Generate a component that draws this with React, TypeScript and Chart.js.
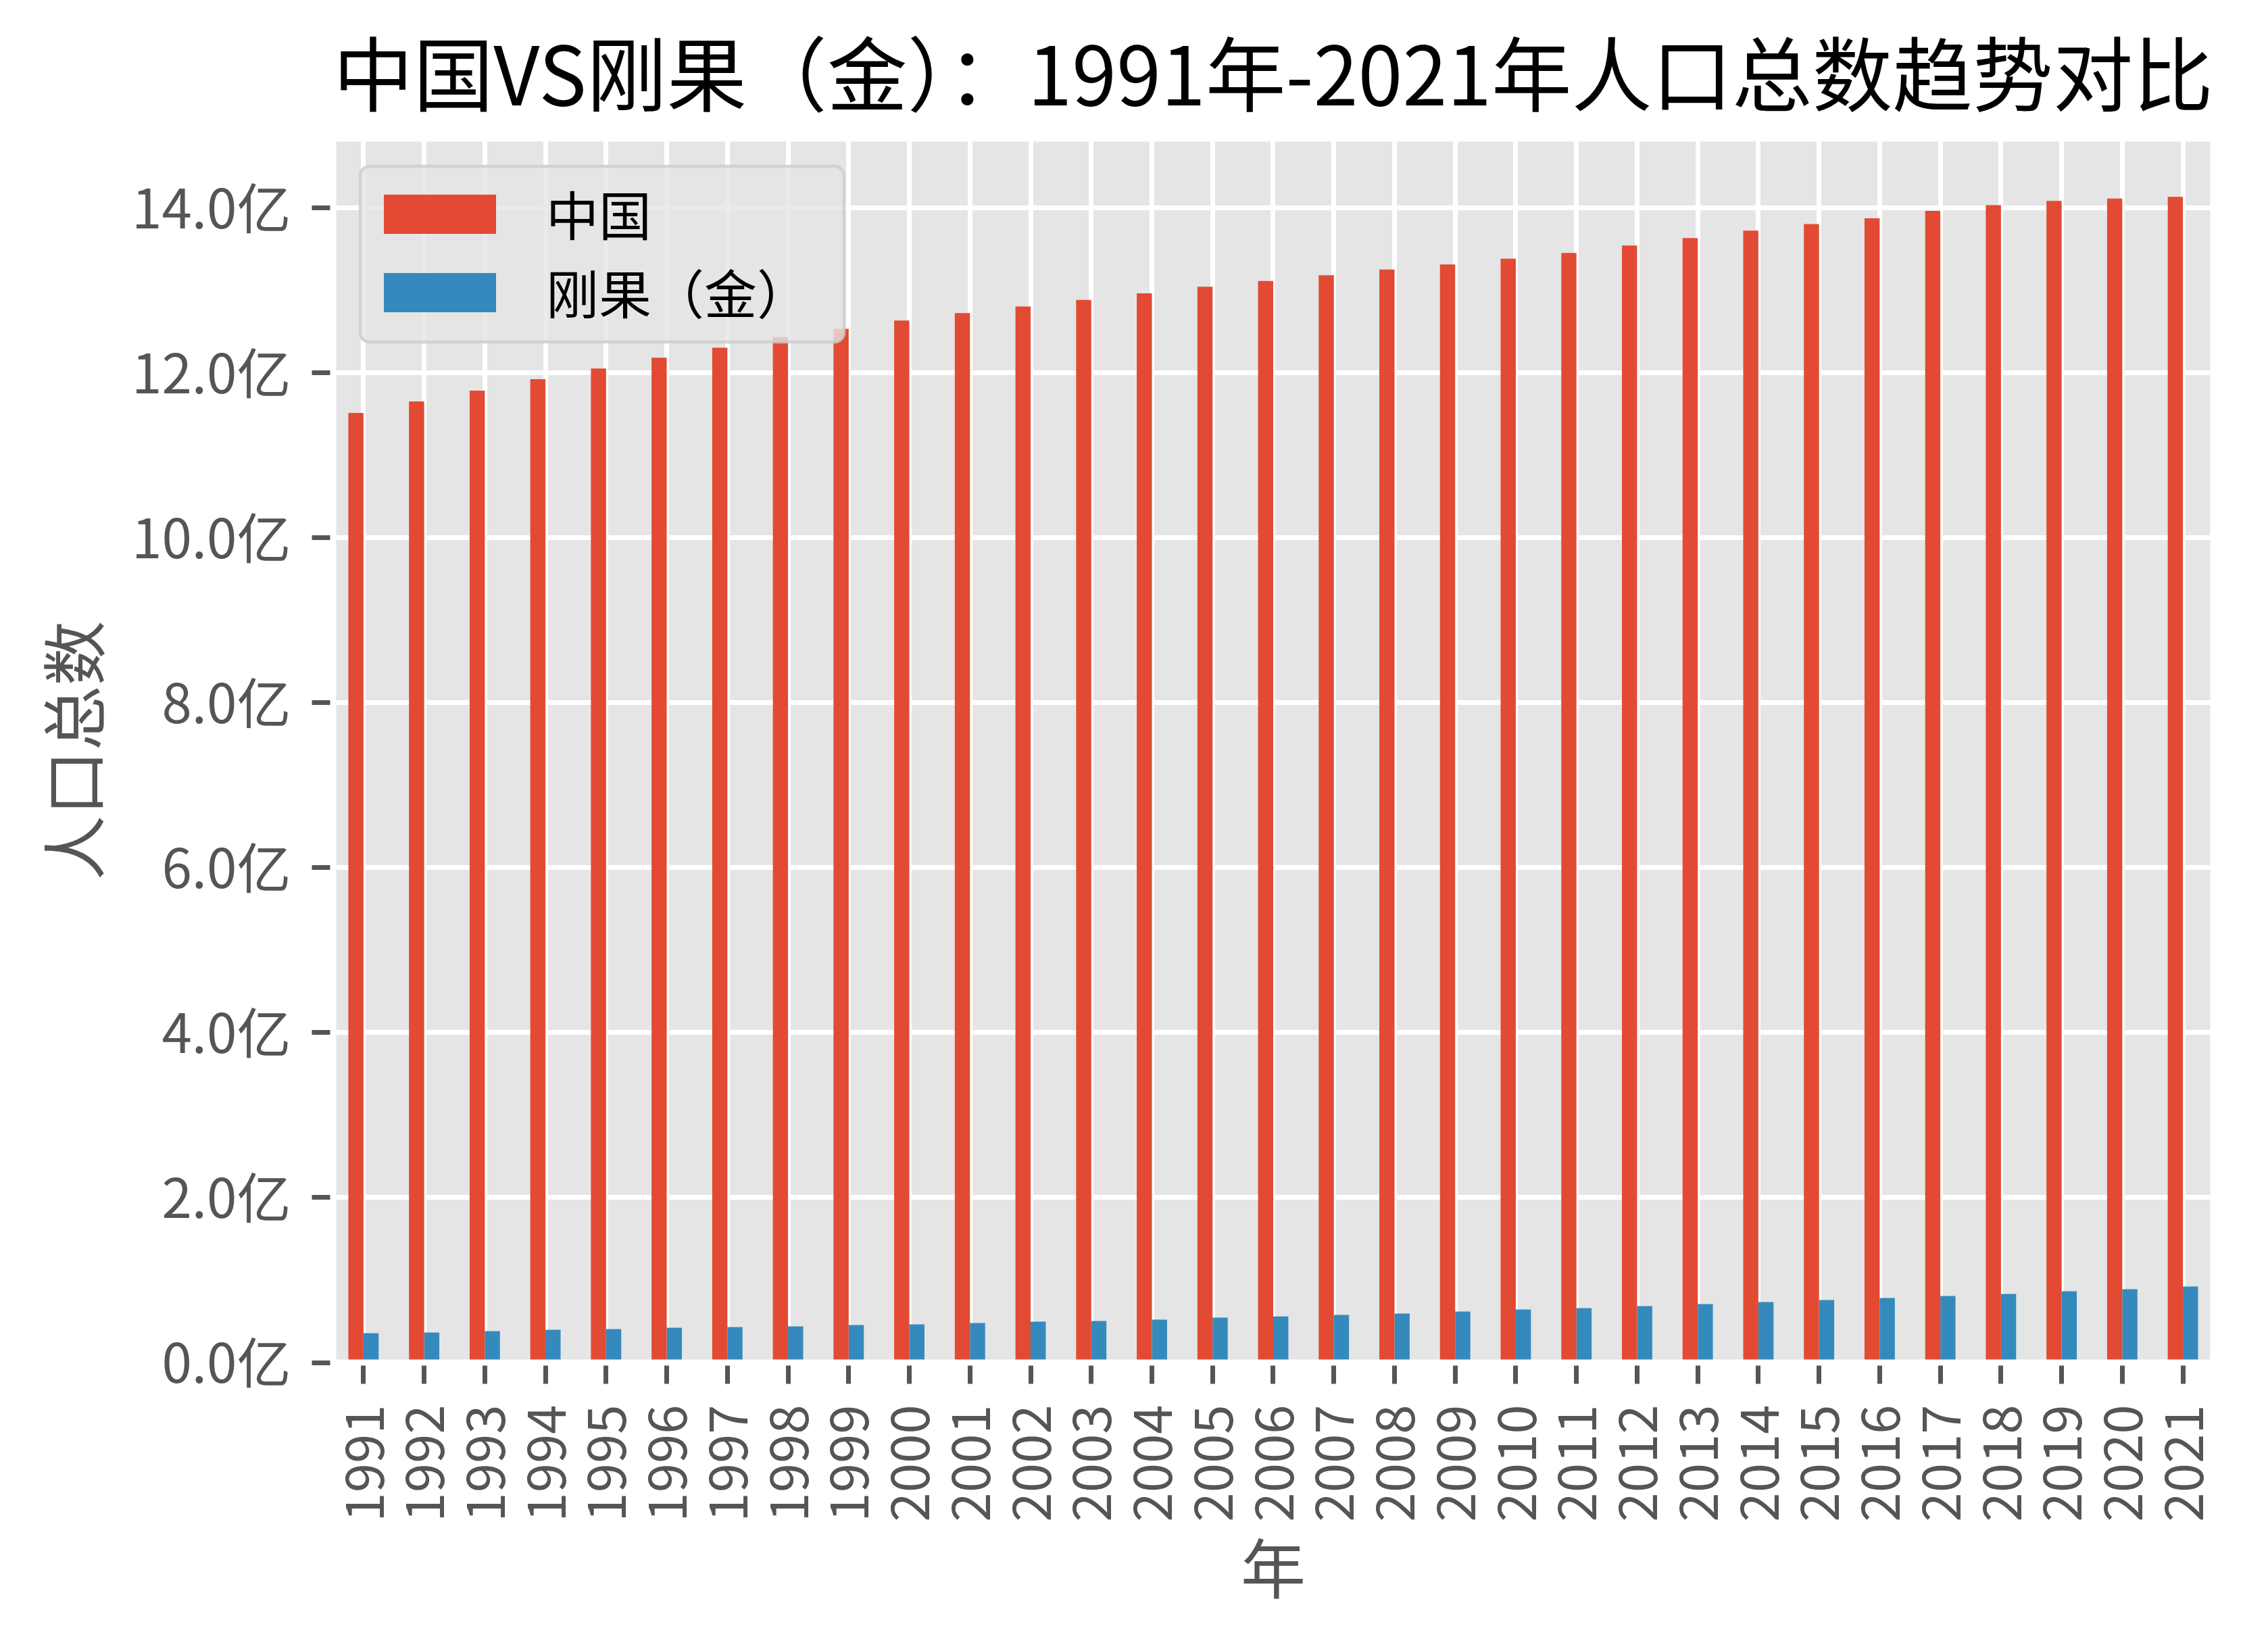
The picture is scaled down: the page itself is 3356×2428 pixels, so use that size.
import React, { useEffect, useRef } from 'react';
import { Chart, registerables } from 'chart.js';

Chart.register(...registerables);

const years = [
  '1991', '1992', '1993', '1994', '1995', '1996', '1997', '1998', '1999', '2000',
  '2001', '2002', '2003', '2004', '2005', '2006', '2007', '2008', '2009', '2010',
  '2011', '2012', '2013', '2014', '2015', '2016', '2017', '2018', '2019', '2020', '2021',
];

// 人口（亿）
const chinaPop = [
  11.51, 11.65, 11.78, 11.92, 12.05, 12.18, 12.30, 12.43, 12.53, 12.63,
  12.72, 12.80, 12.88, 12.96, 13.04, 13.11, 13.18, 13.25, 13.31, 13.38,
  13.45, 13.54, 13.63, 13.72, 13.80, 13.87, 13.96, 14.03, 14.08, 14.11, 14.13,
];

const congoPop = [
  0.356, 0.364, 0.381, 0.397, 0.405, 0.422, 0.430, 0.438, 0.455, 0.463,
  0.479, 0.496, 0.504, 0.520, 0.545, 0.560, 0.577, 0.594, 0.618, 0.643,
  0.659, 0.684, 0.708, 0.733, 0.758, 0.782, 0.807, 0.831, 0.864, 0.889, 0.921,
];

const seriesNames = ['中国', '刚果（金）'];
const seriesColors = ['#E24A33', '#348ABD'];
const yTickStep = 2;
const yUnit = '亿';
const titleText = '中国VS刚果（金）：1991年-2021年人口总数趋势对比';
const xAxisTitle = '年';
const yAxisTitle = '人口总数';

const FONT = '"Noto Sans CJK SC", "Noto Sans", sans-serif';
const W = 3356;
const H = 2428;

const decorPlugin = {
  id: 'decor',
  beforeDraw(chart: any) {
    const { ctx, chartArea: a } = chart;
    ctx.save();
    ctx.fillStyle = '#E5E5E5';
    ctx.fillRect(a.left, a.top, a.right - a.left, a.bottom - a.top);
    ctx.restore();
  },
  afterDatasetsDraw(chart: any) {
    const { ctx, chartArea: a } = chart;
    ctx.save();
    ctx.strokeStyle = '#FFFFFF';
    ctx.lineWidth = 9;
    ctx.strokeRect(a.left, a.top, a.right - a.left, a.bottom - a.top);
    ctx.restore();
  },
  afterDraw(chart: any) {
    const { ctx, chartArea: a } = chart;
    const bx = a.left + 40;
    const by = a.top + 41;
    const bw = 716;
    const bh = 260;
    ctx.save();
    ctx.beginPath();
    ctx.roundRect(bx, by, bw, bh, 14);
    ctx.fillStyle = 'rgba(229,229,229,0.8)';
    ctx.fill();
    ctx.lineWidth = 4.5;
    ctx.strokeStyle = 'rgba(204,204,204,0.8)';
    ctx.stroke();
    const ds = chart.data.datasets;
    ctx.font = `78px ${FONT}`;
    ctx.textBaseline = 'middle';
    ctx.textAlign = 'left';
    for (let i = 0; i < ds.length; i++) {
      const cy = by + 71 + i * 116;
      ctx.fillStyle = ds[i].backgroundColor;
      ctx.fillRect(bx + 35, cy - 29, 166, 58);
      ctx.fillStyle = '#000000';
      ctx.fillText(ds[i].label, bx + 275, cy + 2);
    }
    ctx.restore();
  },
};

export default function App() {
  const ref = useRef<HTMLCanvasElement | null>(null);

  useEffect(() => {
    document.body.style.margin = '0';
    const canvas = ref.current;
    if (!canvas) return;
    const yMax = Math.max(...chinaPop, ...congoPop) * 1.05;
    const chart = new Chart(canvas, {
      type: 'bar',
      data: {
        labels: years,
        datasets: [
          { label: seriesNames[0], data: chinaPop, backgroundColor: seriesColors[0], borderWidth: 0 },
          { label: seriesNames[1], data: congoPop, backgroundColor: seriesColors[1], borderWidth: 0 },
        ],
      },
      options: {
        responsive: false,
        animation: false,
        devicePixelRatio: 1,
        layout: { padding: { left: 0, right: 74, top: 0, bottom: 0 } },
        datasets: {
          bar: { categoryPercentage: 0.5, barPercentage: 1.0 },
        },
        plugins: {
          legend: { display: false },
          tooltip: { enabled: false },
          title: {
            display: true,
            text: titleText,
            color: '#000000',
            fullSize: false,
            font: { family: FONT, size: 120, weight: 'normal', lineHeight: 1.2 },
            padding: { top: 38, bottom: 23 },
          },
        },
        scales: {
          x: {
            type: 'category',
            offset: true,
            grid: {
              offset: false,
              color: '#FFFFFF',
              lineWidth: 7,
              drawTicks: true,
              tickLength: 31.5,
              tickWidth: 7,
              tickColor: '#555555',
            },
            border: { display: false },
            ticks: {
              color: '#555555',
              font: { family: FONT, size: 78 },
              minRotation: 90,
              maxRotation: 90,
              autoSkip: false,
              padding: 31,
            },
            title: {
              display: true,
              text: xAxisTitle,
              color: '#555555',
              font: { family: FONT, size: 96, lineHeight: 1.2 },
              padding: { top: 0, bottom: 50 },
            },
            afterFit(scale: any) {
              scale.height = 412;
            },
          },
          y: {
            type: 'linear',
            min: 0,
            max: yMax,
            grid: {
              color: '#FFFFFF',
              lineWidth: 7,
              drawTicks: true,
              tickLength: 31.5,
              tickWidth: 7,
              tickColor: '#555555',
            },
            border: { display: false },
            ticks: {
              stepSize: yTickStep,
              includeBounds: false,
              color: '#555555',
              font: { family: FONT, size: 80 },
              padding: 31,
              callback: (v: any) => Number(v).toFixed(1) + yUnit,
            },
            title: {
              display: true,
              text: yAxisTitle,
              color: '#555555',
              font: { family: FONT, size: 96, lineHeight: 1.2 },
              padding: { top: 52, bottom: 0 },
            },
            afterFit(scale: any) {
              scale.width = 493;
            },
          },
        },
      },
      plugins: [decorPlugin],
    });
    return () => chart.destroy();
  }, []);

  return (
    <canvas
      ref={ref}
      width={W}
      height={H}
      style={{ display: 'block', width: W + 'px', height: H + 'px' }}
    />
  );
}
